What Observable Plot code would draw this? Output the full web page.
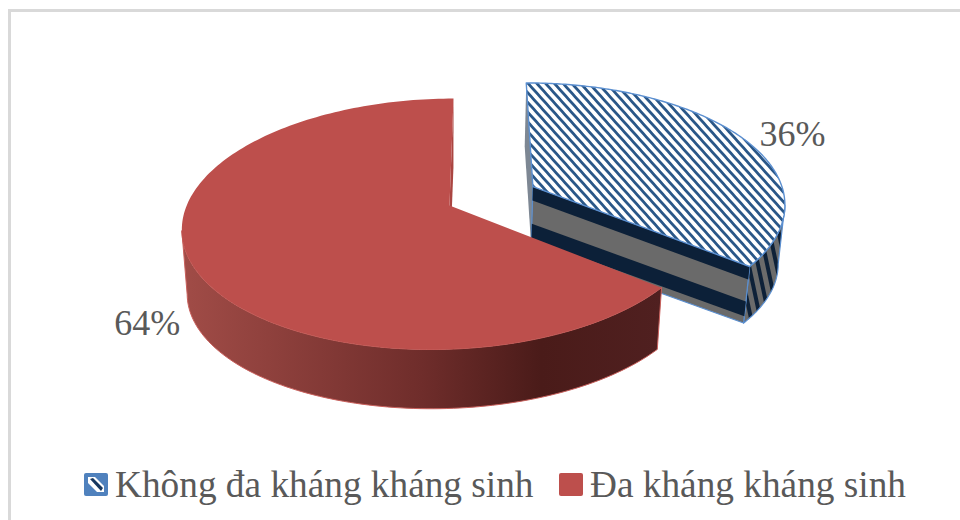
<!DOCTYPE html>
<html lang="vi">
<head>
<meta charset="utf-8">
<script src="https://cdn.jsdelivr.net/npm/d3@7"></script>
<script src="https://cdn.jsdelivr.net/npm/@observablehq/plot@0.6"></script>
<style>
  html, body { margin: 0; padding: 0; width: 960px; height: 520px; overflow: hidden; background: #fff; }
  #chart { position: relative; width: 960px; height: 520px; }
  #frame { position: absolute; left: 8px; top: 9px; right: -4px; bottom: -4px; border: 3px solid #d9d9d9; pointer-events: none; }
  #legend { position: absolute; left: 0; top: 455px; width: 960px; height: 60px;
            font: 37.3px "Liberation Serif", serif; color: #595959; }
  #legend .item { position: absolute; top: 0; height: 58px; display: flex; align-items: center; white-space: nowrap; }
  #legend svg { margin-right: 7px; }
  svg { display: block; }
</style>
</head>
<body>
<div id="chart"><div id="frame"></div></div>
<script>
// Share of isolates by antibiotic resistance, percent
const categories = ["Không đa kháng kháng sinh", "Đa kháng kháng sinh"];
const shares = [36, 64];
const shareLabels = ["36%", "64%"];

// Tilted-disc view: maps disc coordinates (u right, v toward the viewer) to chart units
const view = {A: 258, B: -4.6, C: -3, D: 122.7, g: 0.0226, h: -0.147};
const depthShrink = {x: 0.98, y: 0.96};
const sliceStyle = [
  {off: {u: 0.33, v: -0.15}, radius: 1.02, drop: 59},
  {off: {u: 0, v: 0}, radius: 1, drop: 65}
];

const project = (u, v) => {
  const w = 1 + view.g * u + view.h * v;
  return [(view.A * u + view.B * v) / w, (view.C * u + view.D * v) / w];
};
const pt = (p) => ({x: p[0], y: p[1]});

// Clockwise angles from the top of the disc, one range per slice
const total = d3.sum(shares);
const toAngle = (s) => (s / total) * 2 * Math.PI;
const cumulative = d3.cumsum(shares);
const slices = shares.map((s, i) => ({
  start: toAngle(cumulative[i] - s),
  end: toAngle(cumulative[i]),
  ...sliceStyle[i]
}));
const lower = (s) => ([x, y]) => [x * depthShrink.x, y * depthShrink.y + s.drop];
const onDisc = (s, a, r = s.radius) => project(s.off.u + r * Math.sin(a), s.off.v - r * Math.cos(a));
const arcPoints = (s) => d3.range(0, 181).map((k) => onDisc(s, s.start + (s.end - s.start) * k / 180));
const apex = (s) => project(s.off.u, s.off.v);

const topFace = (s) => [apex(s), ...arcPoints(s), apex(s)].map(pt);
// Outer wall between the rim and its lowered copy, over the given stretch of arc
const rimWall = (s, arc) => [...arc, ...arc.slice().reverse().map(lower(s)), arc[0]].map(pt);
const cutWall = (s, a) => {
  const p = apex(s), q = onDisc(s, a);
  return [p, q, lower(s)(q), lower(s)(p), p].map(pt);
};
// A band of a cut wall between two fractions of its height
const mix = (p, q, t) => [p[0] + (q[0] - p[0]) * t, p[1] + (q[1] - p[1]) * t];
const band = (s, a, t0, t1) => {
  const p = apex(s), q = onDisc(s, a), lo = lower(s);
  return [mix(p, lo(p), t0), mix(q, lo(q), t0), mix(q, lo(q), t1), mix(p, lo(p), t1), mix(p, lo(p), t0)].map(pt);
};

const [kept, resistant] = slices;

// Only the part of each rim facing the viewer has a visible wall: it ends at the sideways extreme
const keptArc = arcPoints(kept);
const keptRim = keptArc.slice(d3.maxIndex(keptArc, (p) => p[0]));
const resistantArc = arcPoints(resistant);
const resistantRim = resistantArc.slice(0, d3.minIndex(resistantArc, (p) => p[0]) + 1);

// Fills that the chart refers to by url()
const defs = () => {
  const d = d3.create("svg:defs");
  const hatch = d.append("pattern").attr("id", "hatch").attr("patternUnits", "userSpaceOnUse")
    .attr("width", 6.5).attr("height", 6.5).attr("patternTransform", "rotate(48)");
  hatch.append("rect").attr("width", 6.5).attr("height", 6.5).attr("fill", "#fff");
  hatch.append("rect").attr("width", 6.5).attr("height", 2.8).attr("fill", "#2a5788");
  const side = d.append("pattern").attr("id", "sideHatch").attr("patternUnits", "userSpaceOnUse")
    .attr("width", 9).attr("height", 9).attr("patternTransform", "rotate(-12)");
  side.append("rect").attr("width", 9).attr("height", 9).attr("fill", "#6b6b6b");
  side.append("rect").attr("width", 4).attr("height", 9).attr("fill", "#0e2138");
  const wall = d.append("linearGradient").attr("id", "redWall").attr("gradientUnits", "objectBoundingBox");
  [[0, "#a14c47"], [0.5, "#6f2d2b"], [0.75, "#4a1b19"], [1, "#502020"]].forEach(([o, c]) =>
    wall.append("stop").attr("offset", o).attr("stop-color", c));
  return d.node();
};

const navy = "#0c2038", grey = "#6a6a6a", edge = "#5b8fd0", ink = "#595959";

const marks = [
  defs,
  // Exploded slice: walls behind the top face
  Plot.line(cutWall(kept, kept.start), {x: "x", y: "y", fill: "#7d8793", stroke: "none"}),
  Plot.line(rimWall(kept, keptRim), {x: "x", y: "y", fill: "url(#sideHatch)", stroke: edge, strokeWidth: 1.2}),
  Plot.line(cutWall(kept, kept.end), {x: "x", y: "y", fill: grey, stroke: edge, strokeWidth: 1.2}),
  Plot.line(band(kept, kept.end, 0, 0.23), {x: "x", y: "y", fill: navy, stroke: "none"}),
  Plot.line(band(kept, kept.end, 0.62, 0.88), {x: "x", y: "y", fill: navy, stroke: "none"}),
  Plot.line(topFace(kept), {x: "x", y: "y", fill: "url(#hatch)", stroke: edge, strokeWidth: 1.4}),
  // Main slice
  Plot.line(cutWall(resistant, resistant.end), {x: "x", y: "y", fill: "#aa4541", stroke: "none"}),
  Plot.line(rimWall(resistant, resistantRim), {x: "x", y: "y", fill: "url(#redWall)", stroke: "#c9605c", strokeWidth: 1}),
  Plot.line(topFace(resistant), {x: "x", y: "y", fill: "#bd4f4c", stroke: "none"}),
  // Percentage labels, placed outward along each slice's middle angle
  Plot.text([0], {
    x: () => onDisc(kept, (kept.start + kept.end) / 2, 1.27)[0],
    y: () => onDisc(kept, (kept.start + kept.end) / 2, 1.27)[1],
    text: () => shareLabels[0],
    dx: 4, dy: 8,
    fontSize: 36, fontFamily: "Liberation Serif", fill: ink
  }),
  Plot.text([0], {
    x: () => onDisc(resistant, (resistant.start + resistant.end) / 2, 1.15)[0],
    y: () => onDisc(resistant, (resistant.start + resistant.end) / 2, 1.15)[1],
    text: () => shareLabels[1],
    dx: -3, dy: 48,
    fontSize: 36, fontFamily: "Liberation Serif", fill: ink
  })
];

const plot = Plot.plot({
  width: 960,
  height: 460,
  margin: 0,
  x: {domain: [-449, 511], range: [0, 960], axis: null},
  y: {domain: [-205, 255], range: [0, 460], axis: null},
  marks
});
document.getElementById("chart").prepend(plot);

// Legend below the chart
const legend = d3.select("#chart").append("div").attr("id", "legend");
const itemLeft = [84, 559];
categories.forEach((name, i) => {
  const item = legend.append("div").attr("class", "item").style("left", `${itemLeft[i]}px`);
  const sw = item.append("svg").attr("width", 24).attr("height", 23);
  if (i === 0) {
    sw.append("rect").attr("width", 24).attr("height", 23).attr("rx", 2).attr("fill", "#4f81bd");
    sw.append("path").attr("d", "M4 4 L11 4 L20 13 L20 19 L13 19 L4 10 Z").attr("fill", "#fff");
    sw.append("path").attr("d", "M6 6 L9 5 L19 15 L17 18 Z").attr("fill", "#17375e");
  } else {
    sw.append("rect").attr("width", 24).attr("height", 23).attr("rx", 2).attr("fill", "#bd4f4c");
  }
  item.append("span").text(name);
});
</script>
</body>
</html>
